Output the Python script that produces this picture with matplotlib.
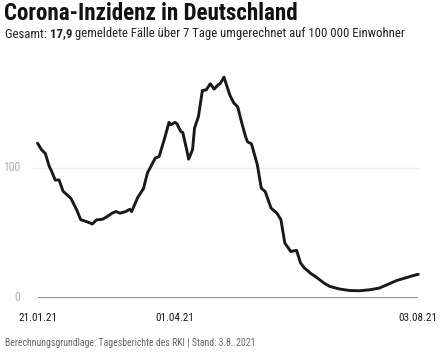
import numpy as np
import pandas as pd
from matplotlib import pyplot as plt
from matplotlib import transforms

plt.rcParams['font.family'] = ['Roboto Condensed', 'Liberation Sans Narrow', 'Liberation Sans', 'DejaVu Sans']

# 7-Tage-Inzidenz
dates = ["2021-01-21", "2021-01-23", "2021-01-25", "2021-01-27", "2021-01-28", "2021-01-30",
         "2021-02-01", "2021-02-03", "2021-02-06", "2021-02-07", "2021-02-10", "2021-02-12",
         "2021-02-15", "2021-02-18", "2021-02-20", "2021-02-23", "2021-02-25", "2021-02-28",
         "2021-03-02", "2021-03-04", "2021-03-07", "2021-03-09", "2021-03-10", "2021-03-13",
         "2021-03-16", "2021-03-18", "2021-03-22", "2021-03-24", "2021-03-27", "2021-03-29",
         "2021-03-30", "2021-04-01", "2021-04-02", "2021-04-04", "2021-04-05", "2021-04-07",
         "2021-04-08", "2021-04-10", "2021-04-11", "2021-04-13", "2021-04-15", "2021-04-17",
         "2021-04-19", "2021-04-21", "2021-04-23", "2021-04-24", "2021-04-26", "2021-04-29",
         "2021-05-01", "2021-05-03", "2021-05-05", "2021-05-07", "2021-05-08", "2021-05-10",
         "2021-05-13", "2021-05-15", "2021-05-17", "2021-05-20", "2021-05-23", "2021-05-25",
         "2021-05-27", "2021-05-30", "2021-06-02", "2021-06-04", "2021-06-06", "2021-06-09",
         "2021-06-12", "2021-06-16", "2021-06-19", "2021-06-24", "2021-06-29", "2021-07-04",
         "2021-07-09", "2021-07-14", "2021-07-18", "2021-07-23", "2021-07-27", "2021-07-31",
         "2021-08-03"]
incidence = [119, 114, 111, 101, 98, 90.6,
             90.6, 82, 77.8, 76.5, 67.5, 60,
             58.5, 56.7, 59.8, 60.3, 61.9, 65,
             66.3, 65, 66.3, 68, 66.3, 77,
             84, 96, 107.5, 108.8, 124, 135,
             133.2, 135, 134, 128, 127.3, 114,
             106.7, 114, 130.6, 139.6, 159.6, 160.1,
             164.8, 160.7, 164, 164.8, 169.9, 156,
             150, 147, 135, 124, 120, 118.5,
             102.3, 84.3, 81.7, 68.9, 65, 60,
             42, 35.5, 36.3, 26.6, 22.7, 18.8,
             15.7, 11.1, 8.5, 6.5, 5.4, 5.2,
             5.9, 7.2, 9.8, 13.1, 14.9, 16.7,
             17.9]

x_ticks = ["2021-01-21", "2021-04-01", "2021-08-03"]
x_labels = ["21.01.21", "01.04.21", "03.08.21"]
y_ticks = [0, 100]

dates = pd.to_datetime(dates)
x_ticks = pd.to_datetime(x_ticks)

W, H = 442, 355
fig = plt.figure(figsize=(W / 100, H / 100), dpi=100)
ax = fig.add_axes([37.5 / W, 1 - 297.5 / H, (418.3 - 37.5) / W, 175 * 1.297 / H])

ax.set_xlim(dates[0], dates[-1])
ax.set_ylim(0, 175)
ax.axis('off')

# gridlines reach a bit left of the plot
for yv in y_ticks:
    ax.axhline(yv, xmin=-0.0125, xmax=1, color='#eeeeee', lw=1, clip_on=False, zorder=1)
ax.axhline(0, color='#999999', lw=1.5, zorder=2)

ax.plot(dates, incidence, color='#1a1a1a', lw=2.1, solid_joinstyle='round', solid_capstyle='round',
        zorder=3, clip_on=False)

# y labels
tr = transforms.blended_transform_factory(fig.transFigure, ax.transData)
for yv in y_ticks:
    ax.text(20 / W, yv, str(yv), transform=tr, ha='right', va='center', fontsize=8.5, color='#b0b0b0')

# x labels
trx = transforms.blended_transform_factory(ax.transData, fig.transFigure)
for d, lab in zip(x_ticks, x_labels):
    ax.text(d, 1 - 318 / H, lab, transform=trx, ha='center', va='center', fontsize=8, color='#1a1a1a')

# titles
fig.text(4 / W, 1 - 13 / H, "Corona-Inzidenz in Deutschland", fontsize=16.6, fontweight='bold',
         va='center', ha='left', color='#111111')

renderer = fig.canvas.get_renderer()
xpos = 5
parts = [("Gesamt: ", 'normal'), ("17,9", 'bold'), (" gemeldete Fälle über 7 Tage umgerechnet auf 100 000 Einwohner", 'normal')]
for s, wgt in parts:
    t = fig.text(xpos / W, 1 - 34 / H, s, fontsize=9.2, fontweight=wgt, va='center', ha='left', color='#222222')
    xpos = t.get_window_extent(renderer).x1

fig.text(5 / W, 1 - 343 / H, "Berechnungsgrundlage: Tagesberichte des RKI | Stand: 3.8..2021", fontsize=7,
         va='center', ha='left', color='#666666')

fig.savefig("out.png", dpi=100)
